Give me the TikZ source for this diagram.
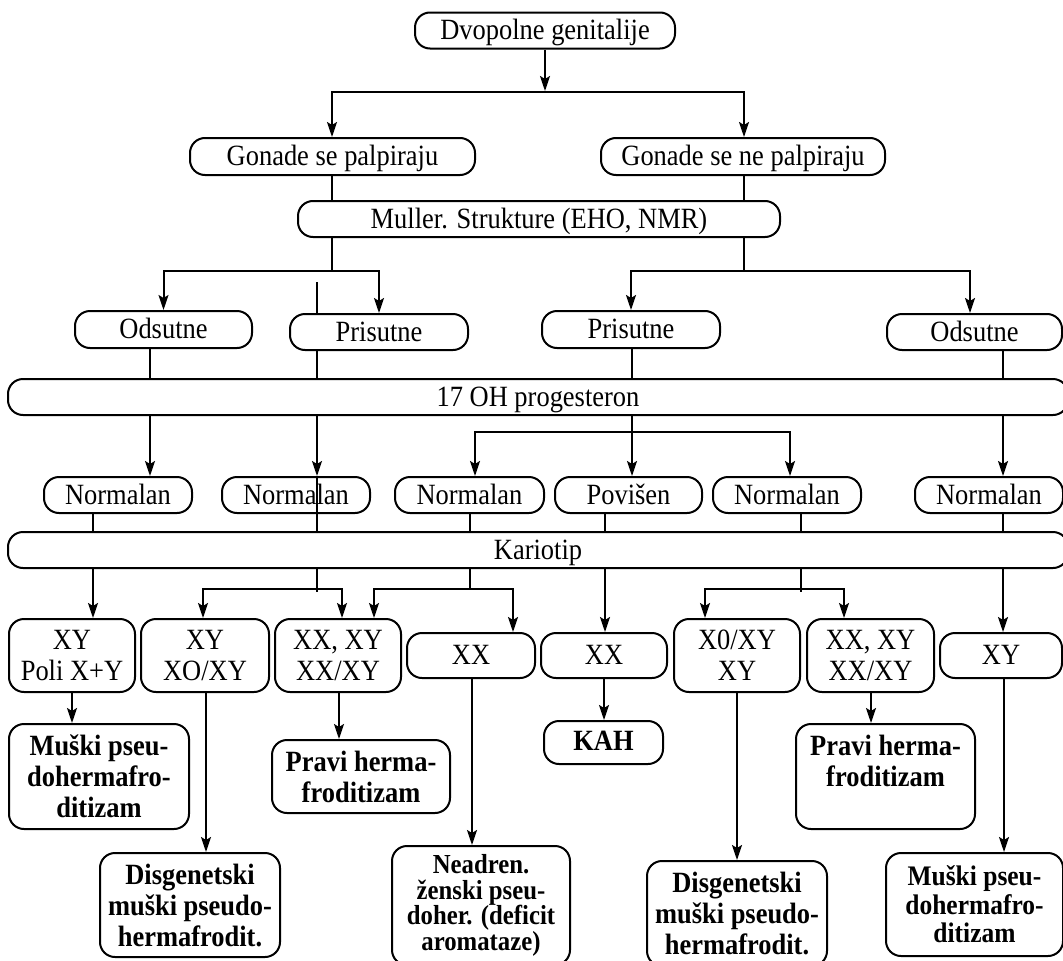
\documentclass[tikz,border=0pt]{standalone}
\usepackage{fontspec}
\setmainfont{Liberation Serif}[FakeStretch=0.9]
\usetikzlibrary{arrows.meta}
\newcommand\fr{\fontsize{29.4}{31}\selectfont\lineskiplimit=-20pt}
\newcommand\fbd{\fontsize{29.4}{31}\selectfont\lineskiplimit=-20pt\bfseries}
\newcommand\fbsm{\fontsize{27.5}{25.5}\selectfont\lineskiplimit=-20pt\bfseries}
\newcommand\fbm{\fontsize{28.3}{28.5}\selectfont\lineskiplimit=-20pt\bfseries}
\tikzset{
  box/.style={draw, line width=2pt, rounded corners=15pt, inner sep=0pt, align=center, font=\fr},
  one/.style={box, text height=18pt, text depth=0pt},
  bbox/.style={box, font=\fbd},
  ln/.style={line width=2pt},
  arr/.style={line width=2pt, -{Stealth[length=15pt,width=10pt,inset=3pt]}},
}
\begin{document}
\begin{tikzpicture}[x=1pt,y=-1pt]
\useasboundingbox (0,0) rectangle (1063,961);
\clip (0,0) rectangle (1063,961);
\foreach \c in {72,93,150,203,206,317,332,339,342,374,470,472,475,513,545,604,605,632,705,737,744,790,801,844,871,970,1003,1004}
  \coordinate (x\c) at (\c,0);

% nodes
\node[one, minimum width=260pt, minimum height=36pt] (top) at (545,30.5) {Dvopolne genitalije};
\node[one, minimum width=285pt, minimum height=37pt] (g1) at (332.5,156.5) {Gonade se palpiraju};
\node[one, minimum width=284pt, minimum height=37pt] (g2) at (743,156.5) {Gonade se ne palpiraju};
\node[one, minimum width=482pt, minimum height=36pt] (mul) at (539,219) {Muller. Strukture (EHO, NMR)};
\node[one, minimum width=177pt, minimum height=37pt] (ods1) at (163.5,329.5) {Odsutne};
\node[one, minimum width=178pt, minimum height=36pt] (pris1) at (379,332) {Prisutne};
\node[one, minimum width=178pt, minimum height=37pt] (pris2) at (631,329.5) {Prisutne};
\node[one, minimum width=175pt, minimum height=36pt] (ods2) at (974.5,332) {Odsutne};
\node[one, minimum width=1060pt, minimum height=36pt] (oh) at (538,397) {17 OH progesteron};
\node[one, minimum width=148pt, minimum height=36pt] (n1) at (118,495) {Normalan};
\node[one, minimum width=148pt, minimum height=36pt] (n2) at (296,495) {Normalan};
\node[one, minimum width=149pt, minimum height=36pt] (n3) at (469.5,495) {Normalan};
\node[one, minimum width=147pt, minimum height=36pt] (pov) at (628.5,495) {Povišen};
\node[one, minimum width=148pt, minimum height=36pt] (n5) at (787,495) {Normalan};
\node[one, minimum width=148pt, minimum height=36pt] (n6) at (989,495) {Normalan};
\node[one, minimum width=1060pt, minimum height=36pt] (kar) at (538,550) {Kariotip};

\node[box, minimum width=126pt, minimum height=73pt] (b1) at (72,655.5) {XY\\Poli X+Y};
\node[box, minimum width=128pt, minimum height=73pt] (b2) at (205,655.5) {XY\\XO/XY};
\node[box, minimum width=126pt, minimum height=73pt] (b3) at (338,655.5) {XX, XY\\XX/XY};
\node[one, minimum width=128pt, minimum height=45pt] (b4) at (471,655.5) {XX};
\node[one, minimum width=126pt, minimum height=45pt] (b5) at (604,655.5) {XX};
\node[box, minimum width=126pt, minimum height=73pt] (b6) at (737,655.5) {X0/XY\\XY};
\node[box, minimum width=127pt, minimum height=73pt] (b7) at (870.5,655.5) {XX, XY\\XX/XY};
\node[one, minimum width=122pt, minimum height=45pt] (b8) at (1001,655.5) {XY};

\node[bbox, minimum width=180pt, minimum height=105pt] (m1) at (99,776.5) {Muški pseu-\\dohermafro-\\ditizam};
\node[bbox, minimum width=178pt, minimum height=73pt] (p1) at (361,776.5) {Pravi herma-\\froditizam};
\node[bbox, text height=15pt, text depth=0pt, minimum width=119pt, minimum height=43pt] (kah) at (603.5,742.5) {KAH};
\node[bbox, minimum width=179pt, minimum height=105pt] (p2) at (885.5,776.5) {Pravi herma-\\froditizam\\\mbox{}};
\node[bbox, minimum width=180pt, minimum height=104pt] (d1) at (190,905) {Disgenetski\\muški pseudo-\\hermafrodit.};
\node[box, font=\fbsm, minimum width=178pt, minimum height=119pt] (ne) at (481,905.5) {Neadren.\\ženski pseu-\\doher. (deficit\\aromataze)};
\node[bbox, minimum width=180pt, minimum height=105pt] (d2) at (737,913.5) {Disgenetski\\muški pseudo-\\hermafrodit.};
\node[box, font=\fbm, minimum width=177pt, minimum height=103pt] (m2) at (974.5,904.5) {Muški pseu-\\dohermafro-\\ditizam};

% connectors
\coordinate (s0) at (545,92);
\coordinate (s0a) at (545,91);
\draw[arr] (top.south) -- (s0a);
\draw[arr] (s0) -| (x332 |- g1.north);
\draw[arr] (s0) -| (x744 |- g2.north);
\draw[ln] (x332 |- g1.south) -- (x332 |- mul.north);
\draw[ln] (x744 |- g2.south) -- (x744 |- mul.north);

\coordinate (bl) at (332,271);
\coordinate (br) at (744,271);
\draw[ln] (bl |- mul.south) -- (bl);
\draw[arr] (bl) -| (ods1.north);
\draw[arr] (bl) -| (pris1.north);
\draw[ln] (br |- mul.south) -- (br);
\draw[arr] (br) -| (pris2.north);
\draw[arr] (br) -| (x970 |- ods2.north);
\coordinate (f1) at (317,282);
\draw[ln] (f1) -- (x317 |- pris1.north);

\draw[ln] (x150 |- ods1.south) -- (x150 |- oh.north);
\draw[ln] (x317 |- pris1.south) -- (x317 |- oh.north);
\draw[ln] (x632 |- pris2.south) -- (x632 |- oh.north);
\draw[ln] (x1003 |- ods2.south) -- (x1003 |- oh.north);

\draw[arr] (x150 |- oh.south) -- (x150 |- n1.north);
\draw[arr] (x317 |- oh.south) -- (x317 |- n2.north);
\draw[arr] (x632 |- oh.south) -- (x632 |- pov.north);
\coordinate (bm) at (632,432);
\draw[arr] (bm) -| (x475 |- n3.north);
\draw[arr] (bm) -| (x790 |- n5.north);
\draw[arr] (x1003 |- oh.south) -- (x1003 |- n6.north);

\draw[ln] (x93 |- n1.south) -- (x93 |- kar.north);
\draw[ln] (x317 |- n2.north) -- (x317 |- kar.north);
\draw[ln] (x470 |- n3.south) -- (x470 |- kar.north);
\draw[ln] (x605 |- pov.south) -- (x605 |- kar.north);
\draw[ln] (x801 |- n5.south) -- (x801 |- kar.north);
\draw[ln] (x1003 |- n6.south) -- (x1003 |- kar.north);

\draw[arr] (x93 |- kar.south) -- (x93 |- b1.north);
\coordinate (k1) at (317,589);
\coordinate (k1e) at (317,592);
\draw[ln] (x317 |- kar.south) -- (k1e);
\draw[arr] (k1) -| (x203 |- b2.north);
\draw[arr] (k1) -| (x342 |- b3.north);
\coordinate (k2) at (470,589);
\draw[ln] (x470 |- kar.south) -- (k2);
\draw[arr] (k2) -| (x374 |- b3.north);
\draw[arr] (k2) -| (x513 |- b4.north);
\draw[arr] (x605 |- kar.south) -- (x605 |- b5.north);
\coordinate (k3) at (801,589);
\coordinate (k3e) at (801,592);
\draw[ln] (x801 |- kar.south) -- (k3e);
\draw[arr] (k3) -| (x705 |- b6.north);
\draw[arr] (k3) -| (x844 |- b7.north);
\draw[arr] (x1003 |- kar.south) -- (x1003 |- b8.north);

\draw[arr] (x72 |- b1.south) -- (x72 |- m1.north);
\draw[arr] (x206 |- b2.south) -- (x206 |- d1.north);
\draw[arr] (x339 |- b3.south) -- (x339 |- p1.north);
\draw[arr] (x472 |- b4.south) -- (x472 |- ne.north);
\draw[arr] (x604 |- b5.south) -- (x604 |- kah.north);
\draw[arr] (x737 |- b6.south) -- (x737 |- d2.north);
\draw[arr] (x871 |- b7.south) -- (x871 |- p2.north);
\draw[arr] (x1004 |- b8.south) -- (x1004 |- m2.north);
\end{tikzpicture}
\end{document}
